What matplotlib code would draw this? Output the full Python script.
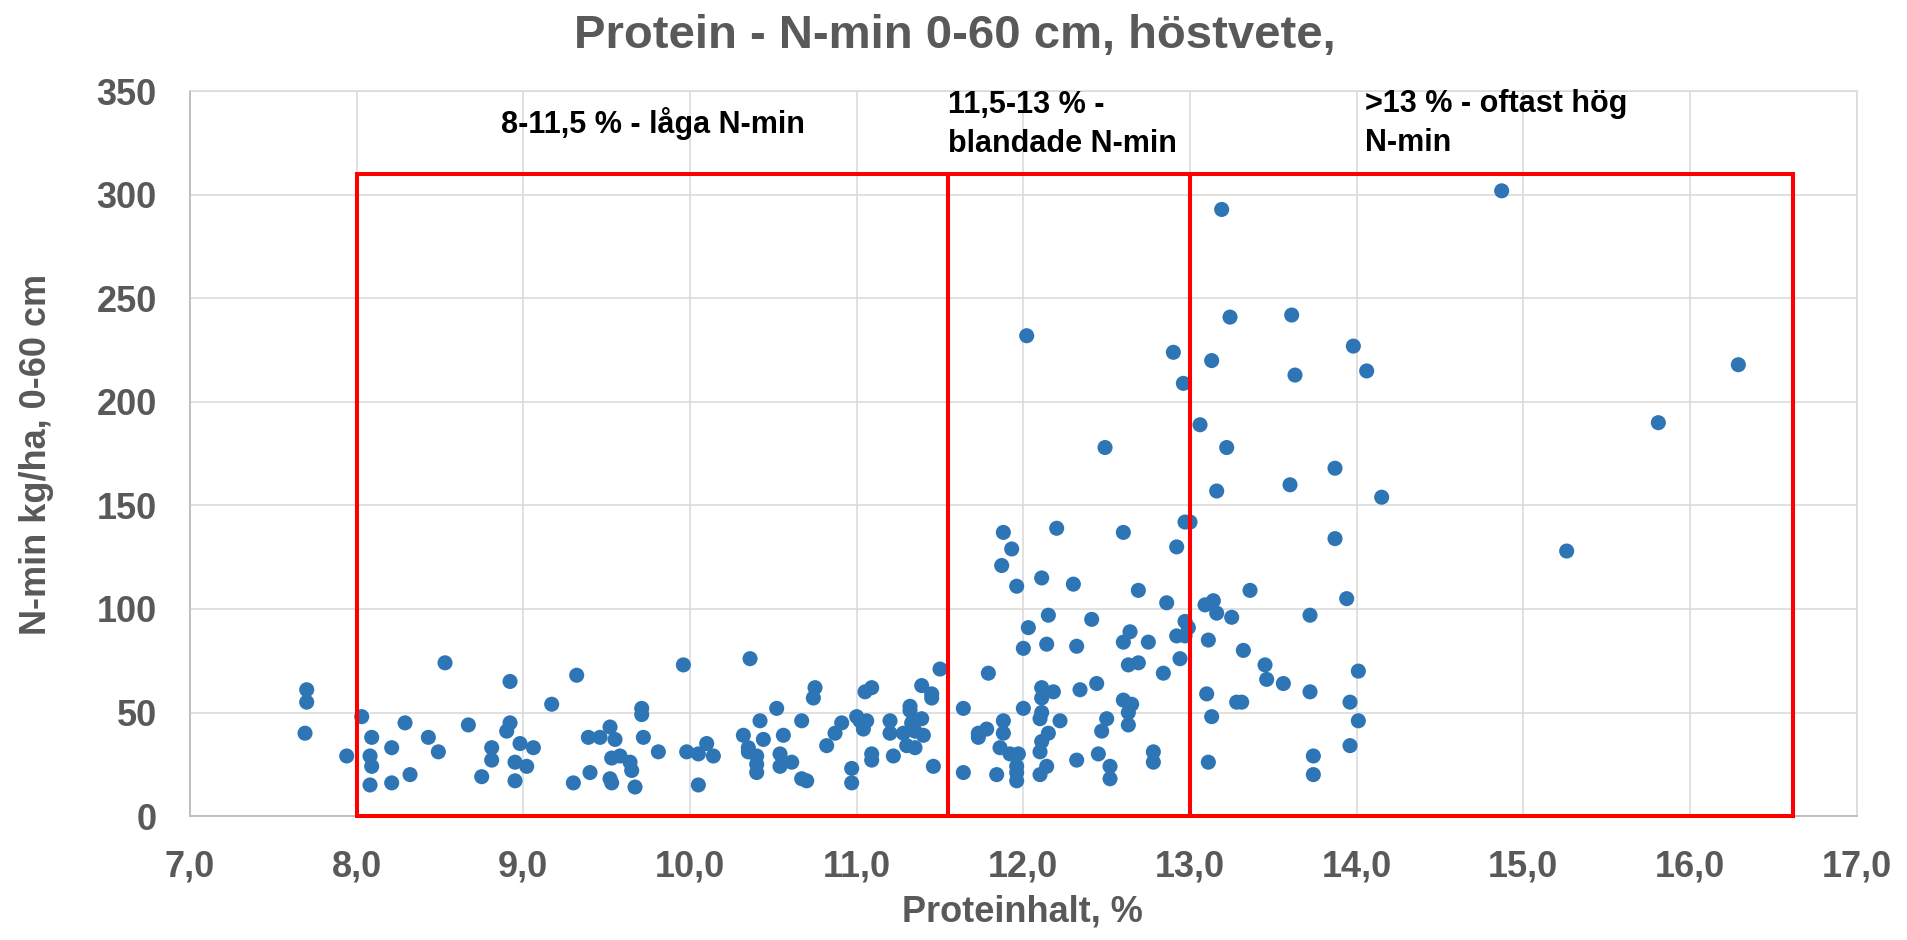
import matplotlib
matplotlib.use("Agg")
import matplotlib.pyplot as plt
from matplotlib.patches import Rectangle

# Font setup (Arial look-alike)
plt.rcParams['font.family'] = ['Liberation Sans', 'DejaVu Sans']

# Data: protein content (%) vs N-min 0-60 cm (kg/ha)
protein_low = [7.70, 7.70, 7.69, 7.94, 8.03, 8.09, 8.08, 8.09, 8.08, 8.21, 8.21, 8.29, 8.32, 8.43,
               8.49, 8.53, 8.67, 8.75, 8.81, 8.81, 8.92, 8.92, 8.90, 8.98, 8.95, 8.95, 9.06, 9.02,
               9.17, 9.32, 9.30, 9.39, 9.40, 9.46, 9.52, 9.55, 9.53, 9.58, 9.64, 9.65, 9.52, 9.53,
               9.67, 9.71, 9.71, 9.72, 9.81, 9.96, 9.98, 10.05, 10.05, 10.10, 10.14, 10.32, 10.36,
               10.42, 10.44, 10.35, 10.35, 10.40, 10.40, 10.40, 10.52, 10.56, 10.54, 10.54, 10.61,
               10.67, 10.67, 10.70, 10.75, 10.74, 10.82, 10.87, 10.91, 10.97, 10.97, 11.00, 11.02,
               11.04, 11.06, 11.05, 11.09, 11.09, 11.09, 11.20, 11.20, 11.22, 11.28, 11.32, 11.32,
               11.33, 11.35, 11.30, 11.35, 11.39, 11.40, 11.39, 11.45, 11.45, 11.46, 11.50]
nmin_low = [61, 55, 40, 29, 48, 38, 29, 24, 15, 33, 16, 45, 20, 38,
            31, 74, 44, 19, 33, 27, 65, 45, 41, 35, 26, 17, 33, 24,
            54, 68, 16, 38, 21, 38, 43, 37, 28, 29, 26, 22, 18, 16,
            14, 52, 49, 38, 31, 73, 31, 15, 30, 35, 29, 39, 76,
            46, 37, 33, 31, 29, 25, 21, 52, 39, 30, 24, 26,
            46, 18, 17, 62, 57, 34, 40, 45, 23, 16, 48, 46,
            42, 46, 60, 62, 30, 27, 46, 40, 29, 40, 53, 51,
            45, 41, 34, 33, 47, 39, 63, 59, 57, 24, 71]

protein_mid = [11.64, 11.64, 11.79, 11.73, 11.73, 11.78, 11.84, 11.88, 11.88, 11.86, 11.92, 11.97,
               11.96, 11.96, 11.96, 12.03, 12.15, 12.00, 12.14, 12.32, 12.41, 12.11, 12.18, 12.11,
               12.00, 12.11, 12.10, 12.34, 12.44, 12.22, 12.15, 12.11, 12.10, 12.14, 12.10, 12.32,
               12.47, 12.50, 12.45, 12.60, 12.65, 12.63, 12.63, 12.78, 12.78, 12.52, 12.52, 12.49,
               11.88, 11.93, 11.87, 12.11, 11.96, 12.30, 12.69, 12.86, 12.20, 12.60, 12.92, 12.97,
               12.64, 12.60, 12.75, 12.97, 12.92, 12.97, 12.94, 12.84, 12.63, 12.69, 12.02, 12.90,
               12.96]
nmin_mid = [52, 21, 69, 40, 38, 42, 20, 46, 40, 33, 30, 30,
            24, 21, 17, 91, 97, 81, 83, 82, 95, 62, 60, 57,
            52, 50, 47, 61, 64, 46, 40, 36, 31, 24, 20, 27,
            41, 47, 30, 56, 54, 50, 44, 31, 26, 24, 18, 178,
            137, 129, 121, 115, 111, 112, 109, 103, 139, 137, 130, 142,
            89, 84, 84, 94, 87, 87, 76, 69, 73, 74, 232, 224,
            209]

protein_high = [13.00, 12.99, 13.19, 13.24, 13.61, 13.98, 13.13, 14.06, 13.63, 13.06, 13.22, 13.87,
                13.60, 13.16, 14.15, 13.87, 13.36, 13.94, 13.09, 13.14, 13.16, 13.25, 13.72, 13.11,
                13.32, 13.45, 13.46, 13.56, 14.01, 13.72, 13.96, 14.01, 13.96, 13.74, 13.74, 13.10,
                13.28, 13.31, 13.13, 13.11, 14.87, 16.29, 15.81, 15.26]
nmin_high = [142, 91, 293, 241, 242, 227, 220, 215, 213, 189, 178, 168,
             160, 157, 154, 134, 109, 105, 102, 104, 98, 96, 97, 85,
             80, 73, 66, 64, 70, 60, 55, 46, 34, 29, 20, 59,
             55, 55, 48, 26, 302, 218, 190, 128]

# Protein class limits drawn as red boxes
box_edges = [8.0, 11.55, 13.0, 16.62]
box_top = 310
box_labels = ["8-11,5 % - låga N-min", "11,5-13 % -\nblandade N-min", ">13 % - oftast hög\nN-min"]

x_ticks = [7, 8, 9, 10, 11, 12, 13, 14, 15, 16, 17]
x_tick_labels = ["7,0", "8,0", "9,0", "10,0", "11,0", "12,0", "13,0", "14,0", "15,0", "16,0", "17,0"]
y_ticks = [0, 50, 100, 150, 200, 250, 300, 350]

GRAY_TXT = '#595959'
GRID = '#D9D9D9'
DOT = '#2E75B6'

fig = plt.figure(figsize=(19.08, 9.40), dpi=100)
ax = fig.add_axes([0.0996, 0.1319, 0.8735, 0.7708])

protein = protein_low + protein_mid + protein_high
nmin = nmin_low + nmin_mid + nmin_high
ax.scatter(protein, nmin, s=118, color=DOT, edgecolors='none', zorder=3)

# Red class boxes
for left, right in zip(box_edges[:-1], box_edges[1:]):
    ax.add_patch(Rectangle((left, 0), right - left, box_top, fill=False,
                           edgecolor='#FF0000', linewidth=2.9, zorder=4, clip_on=False))

# Box labels
ax.text((box_edges[0] + box_edges[1]) / 2, 334.5, box_labels[0], ha='center', va='center',
        fontsize=22, fontweight='bold', color='black')
ax.text(box_edges[1], 334, box_labels[1], ha='left', va='center',
        fontsize=22, fontweight='bold', color='black', linespacing=1.4)
ax.text(14.05, 334.5, box_labels[2], ha='left', va='center',
        fontsize=22, fontweight='bold', color='black', linespacing=1.4)

ax.set_xlim(7, 17)
ax.set_ylim(0, 350)
ax.set_xticks(x_ticks)
ax.set_xticklabels(x_tick_labels)
ax.set_yticks(y_ticks)
ax.grid(True, color=GRID, linewidth=1.1, zorder=0)
ax.set_axisbelow(True)
ax.tick_params(length=0, labelsize=26, labelcolor=GRAY_TXT)
ax.tick_params(axis='y', pad=24)
ax.tick_params(axis='x', pad=24)
for lab in ax.get_xticklabels() + ax.get_yticklabels():
    lab.set_fontweight('bold')

for side in ['top', 'right']:
    ax.spines[side].set_color(GRID)
    ax.spines[side].set_linewidth(1.1)
for side in ['left', 'bottom']:
    ax.spines[side].set_color('#BFBFBF')
    ax.spines[side].set_linewidth(1.4)

fig.text(0.5006, 0.962, "Protein - N-min 0-60 cm, höstvete,", ha='center', va='center',
         fontsize=34, fontweight='bold', color=GRAY_TXT)
fig.text(0.536, 0.030, "Proteinhalt, %", ha='center', va='center',
         fontsize=26, fontweight='bold', color=GRAY_TXT)
fig.text(0.019, 0.517, "N-min kg/ha, 0-60 cm", ha='center', va='center', rotation=90,
         fontsize=26, fontweight='bold', color=GRAY_TXT)

fig.savefig("out.png", dpi=100, facecolor='white')
